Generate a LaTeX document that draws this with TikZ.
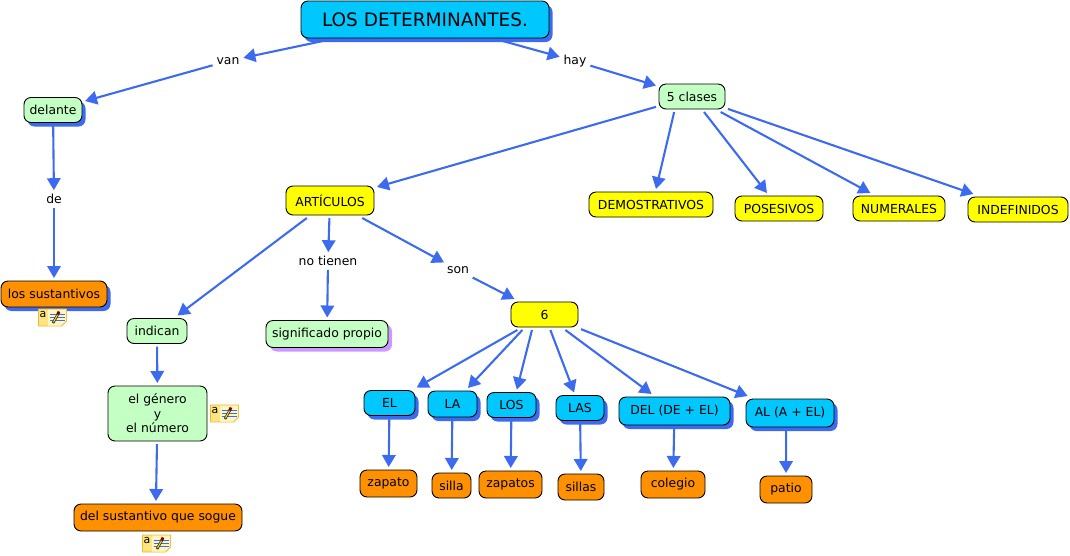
\documentclass[tikz,border=0pt]{standalone}
\usepackage{fontspec}
\setmainfont{DejaVu Sans}
\usetikzlibrary{arrows.meta,shadows}
\definecolor{linkblue}{RGB}{61,107,240}
\definecolor{skyfill}{RGB}{0,200,255}
\definecolor{greenfill}{RGB}{196,255,196}
\definecolor{orangefill}{RGB}{255,145,0}
\definecolor{yellowfill}{RGB}{255,255,0}
\definecolor{purpleshade}{RGB}{204,153,255}
\definecolor{notefill}{RGB}{255,228,130}
\definecolor{notepage}{RGB}{255,245,190}
\definecolor{noteedge}{RGB}{235,185,50}
\tikzset{
	concept/.style={draw=black, line width=0.9pt, rounded corners=7pt, inner sep=0pt, outer sep=3pt, align=center, font=\fontsize{12.4}{14.5}\selectfont},
	blueshade/.style={general shadow={shadow xshift=3.5pt, shadow yshift=-4pt, fill=linkblue}},
	greenbox/.style={concept, fill=greenfill},
	yellowbox/.style={concept, fill=yellowfill},
	skybox/.style={concept, fill=skyfill, blueshade},
	orangebox/.style={concept, fill=orangefill},
	linkword/.style={inner sep=2pt, outer sep=2pt, font=\fontsize{12.4}{14}\selectfont},
	arrowlink/.style={draw=linkblue, line width=2.1pt, -{Triangle[length=12pt,width=13.5pt]}},
	noteicon/.pic={
		\draw[noteedge, fill=notefill, line width=0.8pt] (-14,-8)--(14,-8)--(14,4)--(9,9)--(-14,9)--cycle;
		\fill[notepage] (-4.5,-7.5)--(13.5,-7.5)--(13.5,3.5)--(8.5,8.5)--(-4.5,8.5)--cycle;
		\foreach \i in {-3,0,3}{\draw[linkblue, line width=0.8pt] (-3,\i)--(12,\i);}
		\draw[black!80, line width=2.6pt] (0.5,6)--(5.5,-3);
		\draw[yellow!80!orange, line width=1pt] (1,5)--(5.2,-2.5);
		\draw[red!50!black, line width=2.8pt] (5.2,-2.5)--(6.5,-5.5);
		\node (-letter) at (-9.5,-3) {\fontsize{11}{11}\selectfont a};
	}
}
\begin{document}
\begin{tikzpicture}[x=1pt, y=-1pt, line join=round]
	\useasboundingbox (0,0) rectangle (1070,555);
	% top of the map
	\node[concept, fill=skyfill, blueshade, minimum width=248pt, minimum height=37pt, font=\fontsize{18.5}{20}\selectfont] (title) at (425,19.5) {LOS DETERMINANTES.};
	\node[greenbox, blueshade, minimum width=58pt, minimum height=25pt] (delante) at (53,110) {delante};
	\node[greenbox, minimum width=66pt, minimum height=25pt] (clases) at (692,96.5) {5 clases};
	\node[orangebox, blueshade, minimum width=106pt, minimum height=26pt] (sustantivos) at (54,294) {los sustantivos};
	\node[linkword] (van) at (228,61) {van};
	\node[linkword] (hay) at (575,61) {hay};
	\node[linkword] (de) at (54,199) {de};
	% the five classes
	\node[yellowbox, minimum width=88pt, minimum height=29pt] (articulos) at (330,200.5) {ARTÍCULOS};
	\node[yellowbox, minimum width=124pt, minimum height=25pt] (demostrativos) at (651,204.5) {DEMOSTRATIVOS};
	\node[yellowbox, minimum width=88pt, minimum height=25pt] (posesivos) at (779,208.5) {POSESIVOS};
	\node[yellowbox, minimum width=92pt, minimum height=25pt] (numerales) at (899,208.5) {NUMERALES};
	\node[yellowbox, minimum width=100pt, minimum height=25pt] (indefinidos) at (1018,209.5) {INDEFINIDOS};
	% below the articles
	\node[linkword] (notienen) at (328,261) {no tienen};
	\node[linkword] (son) at (458,270) {son};
	\node[greenbox, minimum width=60pt, minimum height=25pt] (indican) at (157,331) {indican};
	\node[greenbox, general shadow={shadow xshift=4pt, shadow yshift=-4pt, fill=purpleshade}, minimum width=122pt, minimum height=27pt] (significado) at (327,334) {significado propio};
	\node[greenbox, minimum width=99pt, minimum height=55pt] (genero) at (157.5,413.5) {el género\\y\\el número};
	\node[orangebox, minimum width=168pt, minimum height=27pt] (sogue) at (158,517.5) {del sustantivo que sogue};
	\node[yellowbox, minimum width=67pt, minimum height=25pt] (seis) at (544.5,314.5) {6};
	% the six forms and their examples
	\node[skybox, minimum width=51pt, minimum height=25pt] (el) at (389.5,403) {EL};
	\node[skybox, minimum width=49pt, minimum height=26pt] (la) at (452.5,404) {LA};
	\node[skybox, minimum width=49pt, minimum height=25pt] (los) at (511.5,405) {LOS};
	\node[skybox, minimum width=48pt, minimum height=25pt] (las) at (580,408) {LAS};
	\node[skybox, minimum width=111pt, minimum height=28pt] (del) at (674.5,411) {DEL (DE + EL)};
	\node[skybox, minimum width=88pt, minimum height=28pt] (al) at (790,413) {AL (A + EL)};
	\node[orangebox, minimum width=57pt, minimum height=27pt] (zapato) at (388.5,483.5) {zapato};
	\node[orangebox, minimum width=39pt, minimum height=25pt] (silla) at (451.5,485.5) {silla};
	\node[orangebox, minimum width=63pt, minimum height=27pt] (zapatos) at (510.5,484.5) {zapatos};
	\node[orangebox, minimum width=46pt, minimum height=26pt] (sillas) at (581,487) {sillas};
	\node[orangebox, minimum width=64pt, minimum height=27pt] (colegio) at (673,484.5) {colegio};
	\node[orangebox, minimum width=52pt, minimum height=27pt] (patio) at (786,489.5) {patio};
	% connectors
	\foreach \a/\b in {title/van, van/delante, title/hay, hay/clases, delante/de, de/sustantivos,
		articulos/notienen, notienen/significado, articulos/son, son/seis,
		clases/articulos, clases.221/demostrativos.72, clases/posesivos, clases/numerales, clases/indefinidos,
		articulos/indican, indican/genero, genero/sogue.97,
		seis/el, seis.215/la.46, seis.231/los.71, seis/las, seis/del, seis/al,
		el/zapato, la/silla, los/zapatos, las/sillas, del/colegio, al.257/patio}
		\draw[arrowlink] (\a) -- (\b);
	% note icons
	\pic (notea) at (52.5,317) {noteicon};
	\pic (noteb) at (224.5,413) {noteicon};
	\pic (notec) at (156.5,543) {noteicon};
\end{tikzpicture}
\end{document}
